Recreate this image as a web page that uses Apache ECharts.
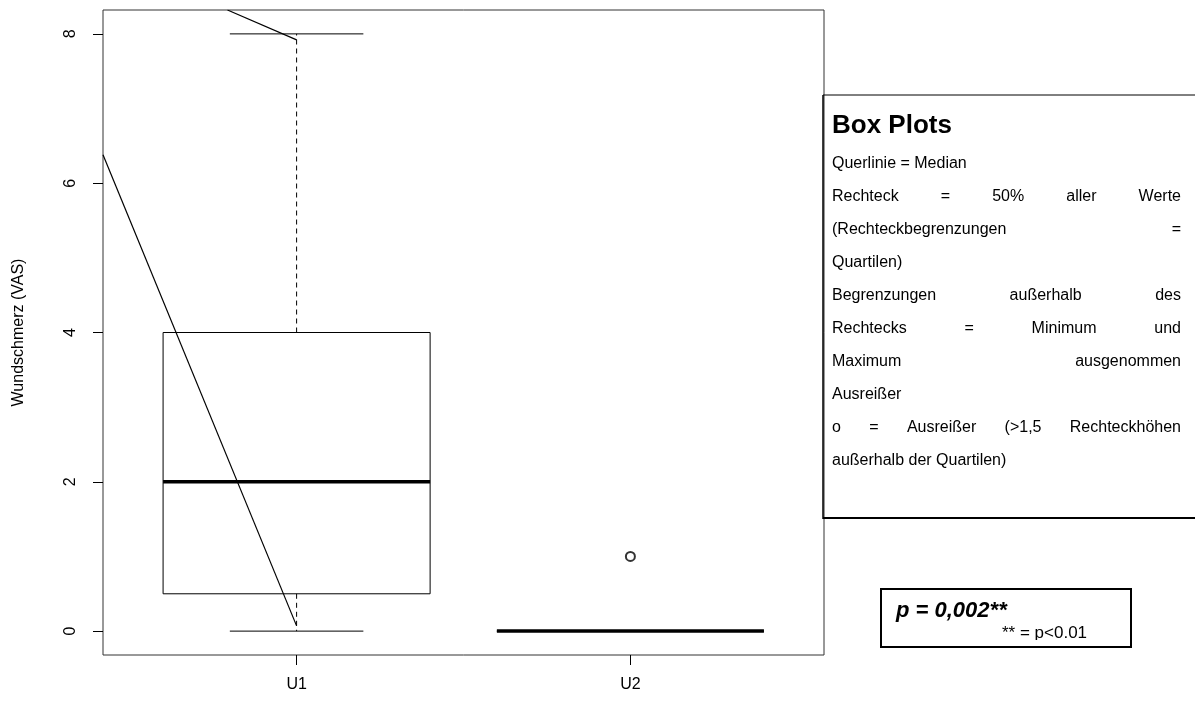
<!DOCTYPE html>
<html>
<head>
<meta charset="utf-8">
<script src="https://cdn.jsdelivr.net/npm/echarts@6/dist/echarts.min.js"></script>
<style>
  html, body { margin: 0; padding: 0; background: #fff; }
  #chart { width: 1195px; height: 708px; }
</style>
</head>
<body>
<div id="chart"></div>
<script>
// Gruppen und Kennwerte der Boxplots
var groups = ['U1', 'U2'];
var groupPos = [1, 2];
var whiskerLow = [0, 0];
var quart1 = [0.5, 0];
var medians = [2, 0];
var quart3 = [4, 0];
var whiskerHigh = [8, 0];

// Ausreißer
var outlierPos = [2];
var outlierVal = [1];

// y-Achse
var yTicks = [0, 2, 4, 6, 8];

// eingezeichnete Linien (Datenkoordinaten)
var strokeA = [[0.793, 8.32], [1, 7.92]];
var strokeB = [[0.42, 6.38], [1, 0.07]];

var legendLines = [
  ['Querlinie = Median', false],
  ['Rechteck = 50% aller Werte', true],
  ['(Rechteckbegrenzungen =', true],
  ['Quartilen)', false],
  ['Begrenzungen außerhalb des', true],
  ['Rechtecks = Minimum und', true],
  ['Maximum ausgenommen', true],
  ['Ausreißer', false],
  ['o = Ausreißer (>1,5 Rechteckhöhen', true],
  ['außerhalb der Quartilen)', false]
];

var BOX_HALF = 0.4;
var CAP_HALF = 0.2;
var FONT = '"Liberation Sans", Arial, sans-serif';
var AXIS_SIZE = 16;

var boxData = groupPos.map(function (p, i) {
  return [p, whiskerLow[i], quart1[i], medians[i], quart3[i], whiskerHigh[i]];
});

function renderBox (params, api) {
  var x = api.value(0);
  var lo = api.value(1), q1 = api.value(2), med = api.value(3), q3 = api.value(4), hi = api.value(5);
  var tl = api.coord([x - BOX_HALF, q3]);
  var br = api.coord([x + BOX_HALF, q1]);
  var c = function (xx, yy) { return api.coord([xx, yy]); };
  var line = function (p1, p2, w, dash) {
    return {
      type: 'line',
      shape: { x1: p1[0], y1: p1[1], x2: p2[0], y2: p2[1] },
      style: { stroke: '#000', lineWidth: w, lineDash: dash || null }
    };
  };
  var children = [];
  // Whisker (gestrichelt)
  if (hi > q3) children.push(line(c(x, q3), c(x, hi), 1, [5, 4]));
  if (lo < q1) children.push(line(c(x, q1), c(x, lo), 1, [5, 4]));
  // Querstriche
  children.push(line(c(x - CAP_HALF, hi), c(x + CAP_HALF, hi), 1));
  children.push(line(c(x - CAP_HALF, lo), c(x + CAP_HALF, lo), 1));
  // Rechteck
  children.push({
    type: 'rect',
    shape: { x: tl[0], y: tl[1], width: br[0] - tl[0], height: br[1] - tl[1] },
    style: { fill: 'none', stroke: '#000', lineWidth: 1 }
  });
  // Median
  children.push(line(c(x - BOX_HALF, med), c(x + BOX_HALF, med), 3.5));
  return { type: 'group', children: children };
}

// Blocksatz für den Erklärungstext
var measure = document.createElement('canvas').getContext('2d');
var LEG_SIZE = 16;
measure.font = LEG_SIZE + 'px ' + FONT;
var LEG_LEFT = 832, LEG_RIGHT = 1181, LEG_TOP = 165, LEG_STEP = 33;
var legendGraphics = [];
legendLines.forEach(function (item, i) {
  var y = LEG_TOP + i * LEG_STEP;
  var words = item[0].split(' ');
  if (!item[1] || words.length < 2) {
    legendGraphics.push({
      type: 'text', x: LEG_LEFT, y: y - 9,
      style: { text: item[0], font: LEG_SIZE + 'px ' + FONT, fill: '#000' }
    });
    return;
  }
  var widths = words.map(function (w) { return measure.measureText(w).width; });
  var total = widths.reduce(function (a, b) { return a + b; }, 0);
  var gap = (LEG_RIGHT - LEG_LEFT - total) / (words.length - 1);
  var xx = LEG_LEFT;
  words.forEach(function (w, k) {
    legendGraphics.push({
      type: 'text', x: xx, y: y - 9,
      style: { text: w, font: LEG_SIZE + 'px ' + FONT, fill: '#000' }
    });
    xx += widths[k] + gap;
  });
});

var chart = echarts.init(document.getElementById('chart'), null, { renderer: 'canvas' });

var option = {
  animation: false,
  grid: {
    left: 103, top: 10, right: 371, bottom: 53,
    show: true, borderColor: '#333', borderWidth: 1, backgroundColor: 'transparent'
  },
  xAxis: {
    type: 'value',
    min: 0.42,
    max: 2.58,
    splitLine: { show: false },
    axisLine: { show: false, onZero: false },
    axisTick: { show: true, length: 10, customValues: groupPos, lineStyle: { color: '#000' } },
    axisLabel: {
      customValues: groupPos,
      margin: 22,
      fontSize: AXIS_SIZE,
      fontFamily: FONT,
      color: '#000',
      formatter: function (v) { return groups[groupPos.indexOf(v)]; }
    }
  },
  yAxis: {
    type: 'value',
    min: -0.32,
    max: 8.32,
    name: 'Wundschmerz (VAS)',
    nameLocation: 'middle',
    nameRotate: 90,
    nameGap: 76,
    nameTextStyle: { fontSize: AXIS_SIZE, fontFamily: FONT, color: '#000' },
    splitLine: { show: false },
    axisLine: { show: false, onZero: false },
    axisTick: { show: true, length: 10, customValues: yTicks, lineStyle: { color: '#000' } },
    axisLabel: {
      customValues: yTicks,
      rotate: 90,
      margin: 24,
      fontSize: AXIS_SIZE,
      fontFamily: FONT,
      color: '#000'
    }
  },
  series: [
    {
      type: 'custom',
      renderItem: renderBox,
      data: boxData,
      encode: { x: 0, y: [1, 2, 3, 4, 5] },
      z: 2
    },
    {
      type: 'scatter',
      data: outlierPos.map(function (p, i) { return [p, outlierVal[i]]; }),
      symbol: 'emptyCircle',
      symbolSize: 9,
      itemStyle: { color: '#000', borderColor: '#000', borderWidth: 1 },
      z: 3
    },
    {
      type: 'line',
      data: strokeA,
      symbol: 'none',
      clip: true,
      lineStyle: { color: '#000', width: 1.2 },
      z: 4
    },
    {
      type: 'line',
      data: strokeB,
      symbol: 'none',
      clip: true,
      lineStyle: { color: '#000', width: 1.2 },
      z: 4
    }
  ],
  graphic: [
    // Rahmen des Erklärungstextes
    { type: 'line', shape: { x1: 823, y1: 95, x2: 1195, y2: 95 }, style: { stroke: '#000', lineWidth: 1 } },
    { type: 'line', shape: { x1: 823, y1: 95, x2: 823, y2: 519 }, style: { stroke: '#000', lineWidth: 1.5 } },
    { type: 'line', shape: { x1: 823, y1: 518, x2: 1195, y2: 518 }, style: { stroke: '#000', lineWidth: 2 } },
    {
      type: 'text', x: 832, y: 113,
      style: { text: 'Box Plots', font: 'bold 26px ' + FONT, fill: '#000' }
    },
    // p-Wert
    { type: 'rect', shape: { x: 881, y: 589, width: 250, height: 58 }, style: { fill: '#fff', stroke: '#000', lineWidth: 2 } },
    {
      type: 'text', x: 896, y: 600,
      style: { text: 'p = 0,002**', font: 'italic bold 22px ' + FONT, fill: '#000' }
    },
    {
      type: 'group', x: 0, y: 0,
      clipPath: { type: 'rect', shape: { x: 990, y: 622, width: 138, height: 18 } },
      children: [
        { type: 'text', x: 1002, y: 625, style: { text: '** = p<0.01', font: '17px ' + FONT, fill: '#000' } }
      ]
    }
  ].concat(legendGraphics)
};

chart.setOption(option);
</script>
</body>
</html>
